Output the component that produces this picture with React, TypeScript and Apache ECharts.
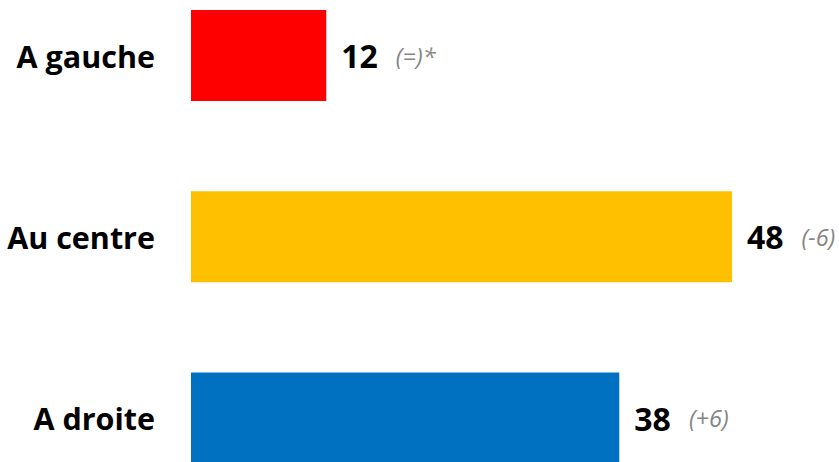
import React, { useEffect, useRef } from "react";
import * as echarts from "echarts";

const categories = ["A gauche", "Au centre", "A droite"];
const values = [12, 48, 38];
const changes = ["(=)*", "(-6)", "(+6)"];
const colors = ["#FF0000", "#FFC000", "#0070C0"];

export default function App() {
  const ref = useRef<HTMLDivElement>(null);
  useEffect(() => {
    if (!ref.current) return;
    const chart = echarts.init(ref.current, undefined, { renderer: "svg" });
    const font = "'Open Sans', sans-serif";
    chart.setOption({
      animation: false,
      grid: { left: 191, top: 55.5, width: 541, bottom: 44, containLabel: false },
      xAxis: {
        type: "value",
        min: 0,
        max: 48,
        show: false,
      },
      yAxis: {
        type: "category",
        data: categories,
        inverse: true,
        boundaryGap: false,
        axisLine: { show: false },
        axisTick: { show: false },
        splitLine: { show: false },
        axisLabel: {
          margin: 36,
          color: "#000",
          fontWeight: "bold",
          fontSize: 30.5,
          fontFamily: font,
        },
      },
      series: [
        {
          type: "bar",
          barWidth: 91,
          data: values.map((v, i) => ({ value: v, itemStyle: { color: colors[i] } })),
          label: {
            show: true,
            position: "right",
            distance: 15,
            formatter: (p: any) => `{v|${p.value}}{c|${changes[p.dataIndex]}}`,
            rich: {
              v: { fontSize: 32, fontWeight: "bold", color: "#000", fontFamily: font, padding: [0, 18, 0, 0] },
              c: { fontSize: 23.5, fontStyle: "italic", color: "#858585", fontFamily: font },
            },
          },
        },
      ],
    });
    return () => chart.dispose();
  }, []);
  return <div ref={ref} style={{ width: 839, height: 462, position: "absolute", left: 0, top: 0 }} />;
}
